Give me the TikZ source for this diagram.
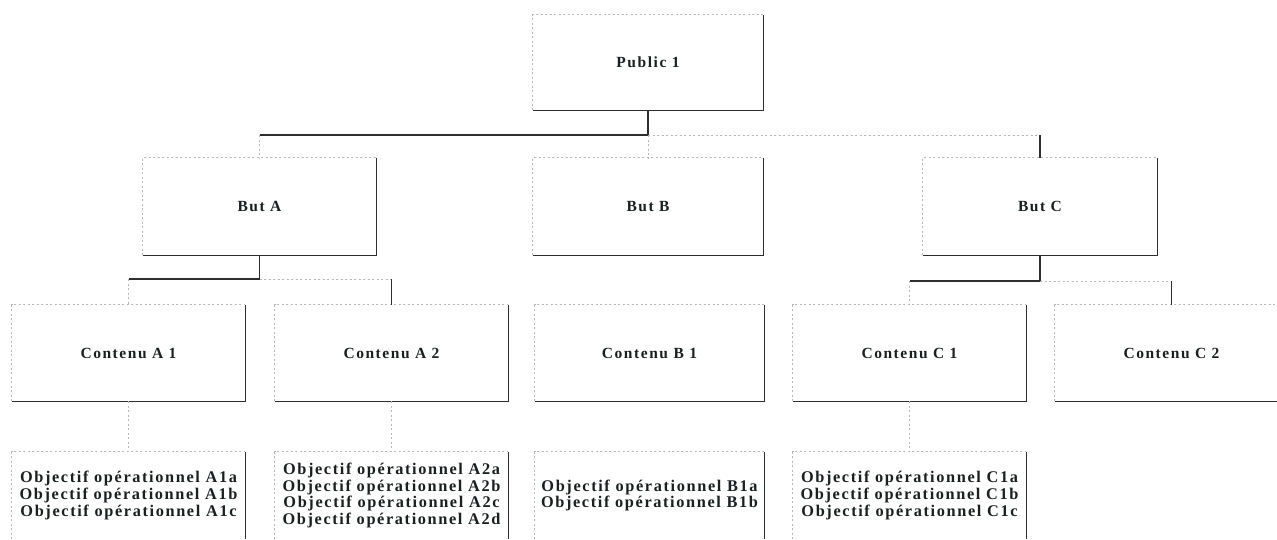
\documentclass[tikz,border=0pt]{standalone}
\usepackage{fontspec}
\setmainfont{Liberation Serif}[LetterSpace=10]
\definecolor{txt}{HTML}{1A2020}
\definecolor{lin}{HTML}{2E2E2E}
\newcommand\boxedges[1]{%
  \draw[faint] (#1.south west) |- (#1.north east);
  \draw[dark] (#1.north east) |- (#1.south west);}
\newcommand\objedges[1]{%
  \draw[faint] (#1.south west) |- (#1.north east);
  \draw[dark] (#1.north east) -- (#1.south east);}
\begin{document}
\begin{tikzpicture}[x=1pt,y=-1pt,
  box/.style={minimum width=233pt, minimum height=96pt, inner sep=0pt,
    font=\fontsize{15.5}{16.7}\selectfont\bfseries, text=txt, align=center},
  obj/.style={box, minimum height=87pt, font=\fontsize{16.3}{16.8}\selectfont\bfseries},
  dark/.style={draw=lin, line width=1.3pt},
  faint/.style={draw=black!28, line width=0.8pt, dash pattern=on 2pt off 2.5pt}]
\useasboundingbox (0,0) rectangle (1277,539);
\fill[white] (0,0) rectangle (1277,539);

% level 1
\node[box, minimum width=230pt, minimum height=95pt] (pub) at (648,62.5) {Public 1};
% level 2
\node[box, minimum height=97pt] (bA) at (259.5,206.5) {But A};
\node[box, minimum width=230pt, minimum height=97pt] (bB) at (648,206.5) {But B};
\node[box, minimum width=234pt, minimum height=97pt] (bC) at (1040,206.5) {But C};
% level 3
\node[box] (cA1) at (128.5,353) {Contenu A 1};
\node[box] (cA2) at (391.5,353) {Contenu A 2};
\node[box, minimum width=229pt] (cB1) at (649.5,353) {Contenu B 1};
\node[box] (cC1) at (909.5,353) {Contenu C 1};
\node[box] (cC2) at (1171.5,353) {Contenu C 2};
% level 4
\node[obj] (oA1) at (128.5,495.5) {Objectif opérationnel A1a\\Objectif opérationnel A1b\\Objectif opérationnel A1c};
\node[obj] (oA2) at (391.5,495.5) {Objectif opérationnel A2a\\Objectif opérationnel A2b\\Objectif opérationnel A2c\\Objectif opérationnel A2d};
\node[obj, minimum width=229pt] (oB1) at (649.5,495.5) {Objectif opérationnel B1a\\Objectif opérationnel B1b};
\node[obj] (oC1) at (909.5,495.5) {Objectif opérationnel C1a\\Objectif opérationnel C1b\\Objectif opérationnel C1c};

\foreach \n in {pub,bA,bB,bC,cA1,cA2,cB1,cC1,cC2} {\boxedges{\n}}
\foreach \n in {oA1,oA2,oB1,oC1} {\objedges{\n}}

% junctions
\coordinate (jP) at (648,135);
\coordinate (jPA) at (259.5,135);
\coordinate (jPC) at (1040,135);
\coordinate (jA) at (259.5,279);
\coordinate (jA1) at (128.5,279);
\coordinate (jA2) at (391.5,279);
\coordinate (jC) at (1040,281);
\coordinate (jC1) at (909.5,281);
\coordinate (jC2) at (1171.5,281);

% connectors
\draw[dark] (pub.south) -- (jP);
\draw[dark] (jP) -- (jPA);
\draw[faint] (jP) -- (jPC);
\draw[faint] (jPA) -- (bA.north);
\draw[faint] (jP) -- (bB.north);
\draw[dark] (jPC) -- (bC.north);

\draw[dark] (bA.south) -- (jA);
\draw[dark] (jA) -- (jA1);
\draw[faint] (jA) -- (jA2);
\draw[faint] (jA1) -- (cA1.north);
\draw[dark] (jA2) -- (cA2.north);

\draw[dark] (bC.south) -- (jC);
\draw[dark] (jC) -- (jC1);
\draw[faint] (jC) -- (jC2);
\draw[faint] (jC1) -- (cC1.north);
\draw[dark] (jC2) -- (cC2.north);

\draw[faint] (cA1.south) -- (oA1.north);
\draw[faint] (cA2.south) -- (oA2.north);
\draw[faint] (cC1.south) -- (oC1.north);
\end{tikzpicture}
\end{document}
